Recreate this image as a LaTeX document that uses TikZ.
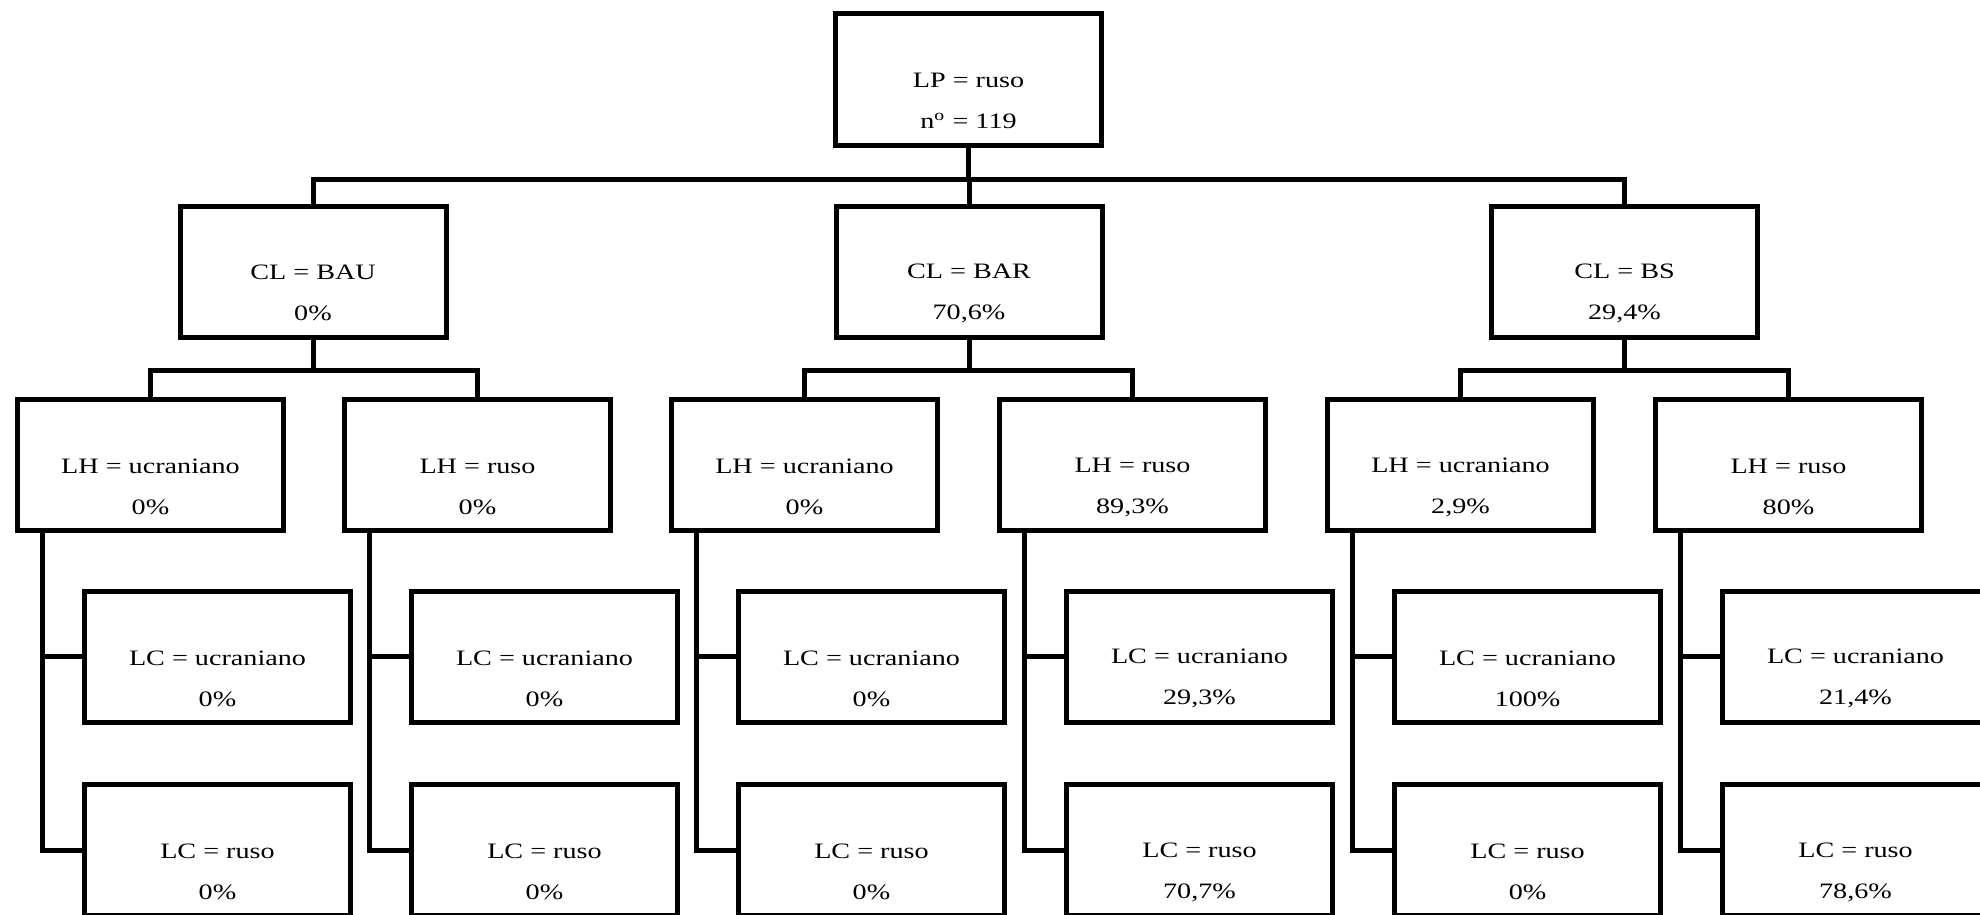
\documentclass[tikz,border=0pt]{standalone}
\usepackage{fontspec}
\setmainfont{Liberation Serif}
\usetikzlibrary{positioning}

\tikzset{
  caja/.style={draw, line width=2.5pt, minimum width=133pt, minimum height=65.5pt, inner sep=0pt},
  texto/.style={align=center, xscale=1.28, transform shape, font=\fontsize{11}{20.5}\selectfont},
  rama/.style={line width=2.5pt}
}

\begin{document}
\begin{tikzpicture}[x=0.5pt, y=-0.5pt]
  \useasboundingbox (0,0) rectangle (1980,915);
  \clip (0,0) rectangle (1980,915);
  % raiz
  \node[caja] (lp) at (968.5,79.5) {};
  \node[texto] (tlp) at ([yshift=-10.5pt]lp.center) {LP = ruso\\n\textsuperscript{o} = 119};
  % clase
  \foreach \j/\x/\c/\p in {1/313/BAU/0\%, 2/969/BAR/{70,6\%}, 3/1624.5/BS/{29,4\%}} {
    \node[caja] (cl\j) at (\x,272) {};
    \node[texto] (tcl\j) at ([yshift=-10.5pt]cl\j.center) {CL = \c\\\p};
  }
  % lengua habitual y lengua de comunicacion
  \foreach \i/\x/\l/\ph/\pu/\pr in {1/150.5/ucraniano/0\%/0\%/0\%,
      2/477.5/ruso/0\%/0\%/0\%,
      3/804.5/ucraniano/0\%/0\%/0\%,
      4/1132.5/ruso/{89,3\%}/{29,3\%}/{70,7\%},
      5/1460.5/ucraniano/{2,9\%}/100\%/0\%,
      6/1788.5/ruso/80\%/{21,4\%}/{78,6\%}} {
    \node[caja] (lh\i) at (\x,465) {};
    \node[texto] (tlh\i) at ([yshift=-11pt]lh\i.center) {LH = \l\\\ph};
    \node[caja] (lcu\i) at (\x+67,656.5) {};
    \node[texto] (tlcu\i) at ([yshift=-11pt]lcu\i.center) {LC = ucraniano\\\pu};
    \node[caja] (lcr\i) at (\x+67,850) {};
    \node[texto] (tlcr\i) at ([yshift=-11pt]lcr\i.center) {LC = ruso\\\pr};
    \draw[rama] (lh\i.south west) ++(27,0) |- (lcu\i.west);
    \draw[rama] (lh\i.south west) ++(27,0) |- (lcr\i.west);
  }
  \foreach \j in {1,2,3} {
    \draw[rama] (lp.south) -- ++(0,32) -| (cl\j.north);
  }
  \foreach \j/\a/\b in {1/1/2, 2/3/4, 3/5/6} {
    \draw[rama] (cl\j.south) -- ++(0,30) -| (lh\a.north);
    \draw[rama] (cl\j.south) -- ++(0,30) -| (lh\b.north);
  }
\end{tikzpicture}
\end{document}
